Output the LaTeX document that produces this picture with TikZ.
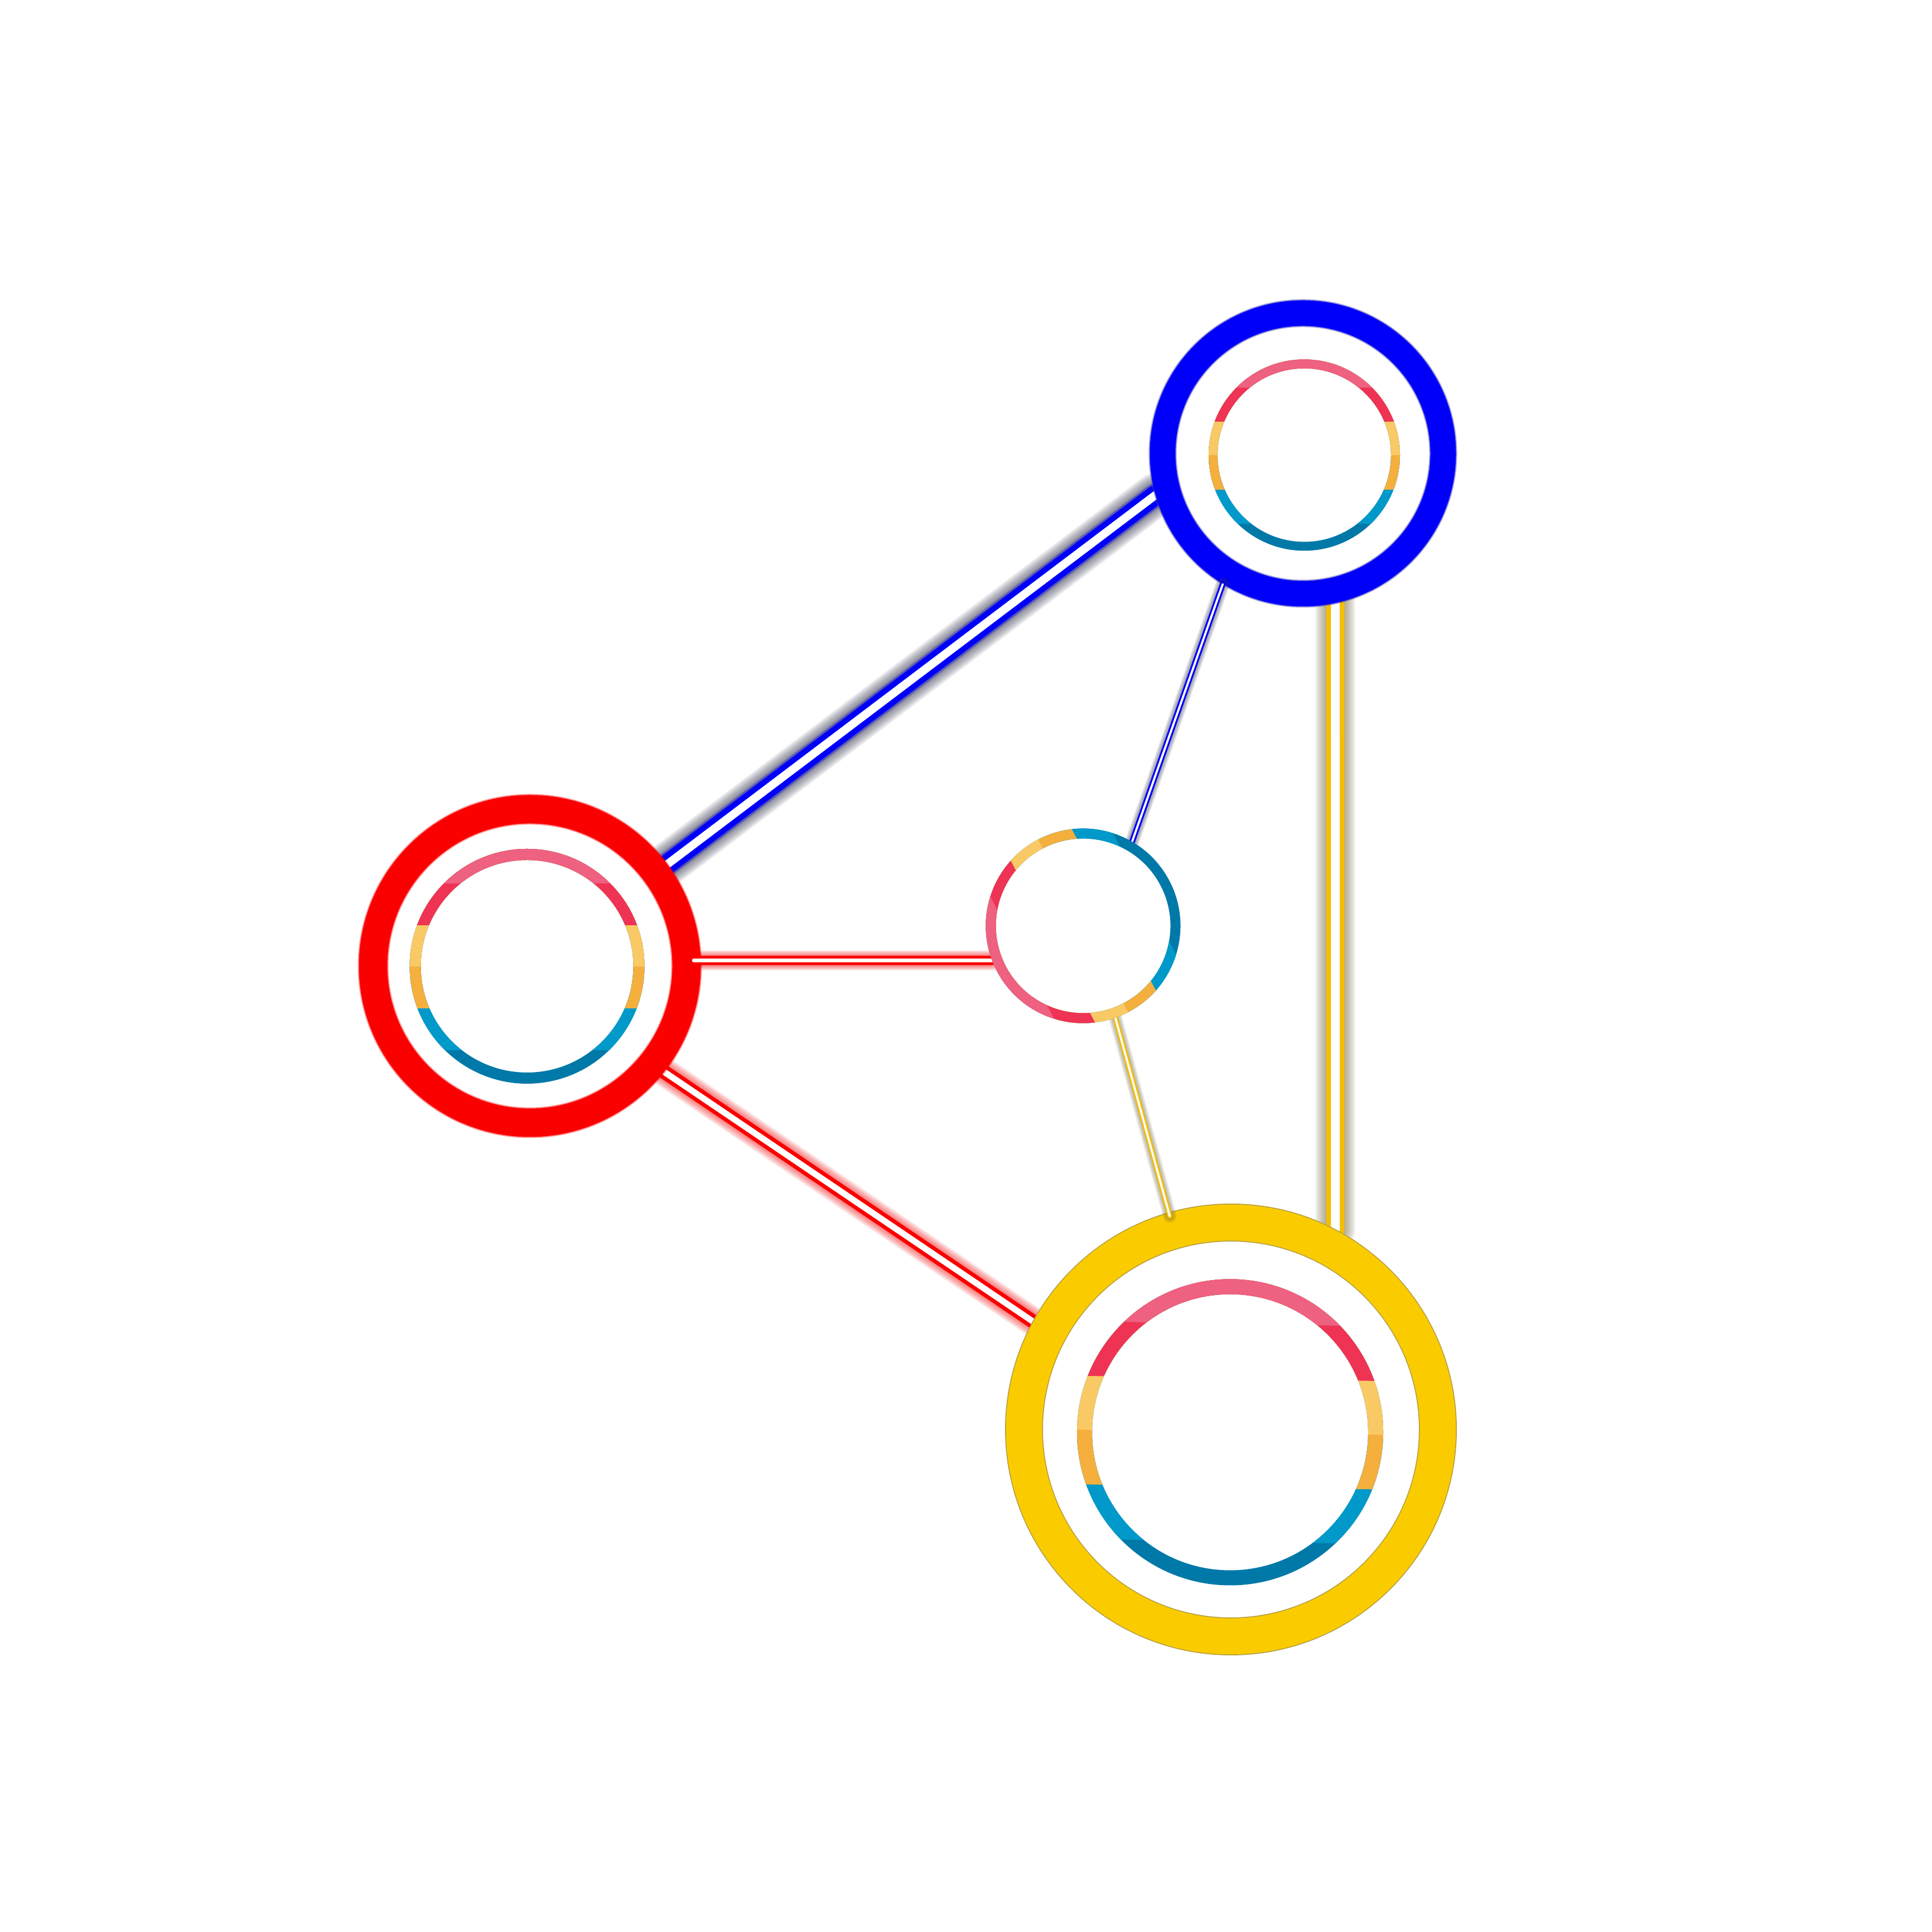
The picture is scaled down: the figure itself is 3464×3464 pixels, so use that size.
\documentclass[tikz,border=0pt]{standalone}
\usetikzlibrary{calc}
\definecolor{segpink}{HTML}{EE6180}
\definecolor{segred}{HTML}{EE3355}
\definecolor{segly}{HTML}{F9C965}
\definecolor{segor}{HTML}{F4AF3D}
\definecolor{segbl}{HTML}{0099C9}
\definecolor{segdb}{HTML}{0079A8}
\definecolor{ringB}{HTML}{0000FA}
\definecolor{ringR}{HTML}{FA0000}
\definecolor{ringY}{HTML}{FACC00}
\definecolor{ringYedge}{HTML}{B8A040}
\definecolor{ringBedge}{HTML}{4040B0}
\definecolor{lineY}{HTML}{F5BE00}
\definecolor{shadowG}{HTML}{3A3A56}
\definecolor{shadowY}{HTML}{7A6E44}

% glow under a connector: [opacity]{colour}{core width}{spread}{from}{to}
\newcommand\glowpath[6][0.06]{%
  \foreach \gk in {1,...,10}{%
    \pgfmathsetmacro\gw{#3+2*#4*\gk/10}%
    \draw[draw=#2, opacity=#1, line width=\gw pt, line cap=round] (#5) -- (#6);
  }%
}
% segmented ring: {cx}{cy}{radius}{width}{rotation}
\newcommand\segring[5]{%
  \begin{scope}[shift={(#1,#2)}, rotate=#5]
    \foreach \seglo/\segcol in {-2/segdb, -0.75/segbl, -0.375/segor, 0/segly, 0.37/segred, 0.745/segpink}{%
      \begin{scope}
        \pgfmathsetmacro\segy{\seglo*#3}%
        \pgfmathsetmacro\segL{#3+#4}%
        \clip (-\segL,\segy) rectangle (\segL,\segL);
        \draw[draw=\segcol, line width=#4pt] (0,0) circle[radius=#3];
      \end{scope}
    }%
  \end{scope}%
}

\begin{document}
\begin{tikzpicture}[x=1pt, y=1pt,
  hub/.style={circle, inner sep=0pt, outer sep=0pt, draw=none},
  conn/.style={double=white, line cap=round}]
\useasboundingbox[fill=white] (0,0) rectangle (3464,3464);

% nodes (invisible, give the borders)
\node[hub, minimum size=550pt]   (nB) at (2336,2651) {};
\node[hub, minimum size=613.5pt] (nR) at (950,1732) {};
\node[hub, minimum size=808pt]   (nY) at (2207,901) {};
\node[hub, minimum size=349pt]   (nC) at (1942,1804) {};

% connector end points on the node borders
\coordinate (bR1) at ($(nB)+(195.8:275)$);
\coordinate (bR2) at ($(nR)+(36.5:306.75)$);
\coordinate (bY1) at ($(nB)+(282.2:275)$);
\coordinate (bY2) at ($(nY)+(62.4:404)$);
\coordinate (rY1) at ($(nR)+(321.75:306.75)$);
\coordinate (rY2) at ($(nY)+(151.4:404)$);
\coordinate (bC1) at ($(nB)+(238.5:275)$);
\coordinate (bC2) at ($(nC)+(59.8:174.5)$);
\coordinate (rC1) at ($(nR)+(294,10)$);
\coordinate (rC2) at ($(nC)+(200.8:174.5)$);
\coordinate (cY1) at ($(nC)+(289.3:174.5)$);
\coordinate (cY2) at ($(nY)+(106:398)$);

% thick connectors (under the rings)
\glowpath[0.085]{shadowG}{34.7}{22}{bR1}{bR2}
\glowpath{ringB}{34.7}{5}{bR1}{bR2}
\draw[conn, draw=ringB, line width=10pt, double distance=14.7pt] (bR1) -- (bR2);

\glowpath[0.07]{shadowY}{32.3}{20}{bY1}{bY2}
\draw[conn, draw=lineY, line width=8.3pt, double distance=15.7pt] (bY1) -- (bY2);

\glowpath{ringR}{25}{14}{rY1}{rY2}
\draw[conn, draw=ringR, line width=7pt, double distance=11pt] (rY1) -- (rY2);

% rings
\draw[draw=ringBedge, opacity=0.5, line width=50pt] (nB) circle[radius=251.5];
\draw[draw=ringB, line width=46pt] (nB) circle[radius=251.5];
\segring{2338.5}{2648}{163.5}{16}{0}

\draw[draw=ringR, opacity=0.4, line width=55pt] (nR) circle[radius=281];
\draw[draw=ringR, line width=51pt] (nR) circle[radius=281];
\segring{945}{1731.5}{200.5}{20}{0}

\draw[draw=ringYedge, line width=68pt] (nY) circle[radius=371];
\draw[draw=ringY, line width=64.5pt] (nY) circle[radius=371];
\segring{2205.5}{896}{261}{27}{-1}

% thin connectors
\glowpath{shadowG}{10}{8}{bC1}{bC2}
\draw[conn, draw=ringB, line width=3.2pt, double distance=3.8pt] (bC1) -- (bC2);

\glowpath{ringR}{16.7}{10}{rC1}{rC2}
\draw[conn, draw=ringR, line width=5pt, double distance=6.7pt] (rC1) -- (rC2);

\glowpath{shadowY}{9}{8}{cY1}{cY2}
\draw[conn, draw=lineY, line width=2.6pt, double distance=3.8pt] (cY1) -- (cY2);

% centre ring
\segring{1942}{1804}{165.5}{18}{117.5}
\end{tikzpicture}
\end{document}
